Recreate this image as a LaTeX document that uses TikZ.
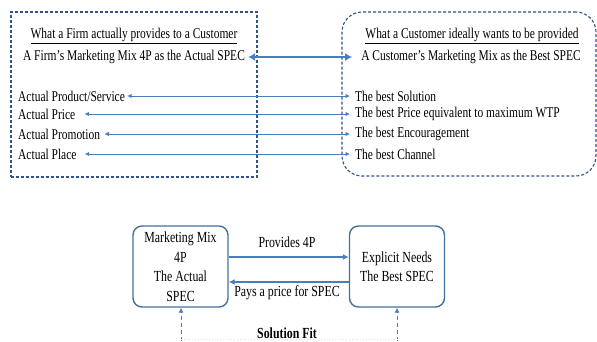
\documentclass[tikz,border=0pt]{standalone}
\usepackage{fontspec}
\setmainfont{Liberation Serif}[FakeStretch=0.77]
\usetikzlibrary{arrows.meta}
\definecolor{arr}{RGB}{74,126,187}
\definecolor{bx}{RGB}{47,82,143}
\definecolor{bx2}{RGB}{65,113,156}
\begin{document}
\begin{tikzpicture}[x=1pt,y=-1pt,
  font=\fontsize{14.9}{17}\selectfont,
  item/.style={inner sep=0pt, anchor=west},
  head/.style={inner sep=0pt},
  dbox/.style={draw=bx, line width=1.1pt, dash pattern=on 3pt off 2pt, inner sep=0pt},
  thinarrow/.style={arr, line width=0.9pt, {Latex[length=4.5pt,width=4.5pt]}-{Latex[length=4.5pt,width=4.5pt]}},
  thickarrow/.style={arr, line width=2.4pt, {Latex[length=7pt,width=8pt]}-{Latex[length=7pt,width=8pt]}},
  sbox/.style={draw=bx2, line width=1.4pt, rounded corners=9pt, minimum width=95pt, minimum height=81pt, align=center, inner sep=0pt, font=\fontsize{15.4}{19.5}\selectfont},
  flow/.style={arr, line width=1.4pt, -{Latex[length=6pt,width=6pt]}},
  dasharrow/.style={arr, line width=0.9pt, dash pattern=on 4pt off 3pt, -{Latex[length=5pt,width=5pt]}},
  lbl/.style={inner sep=0pt, font=\fontsize{15.4}{17}\selectfont}]
\useasboundingbox (0,0) rectangle (597,341);
% top boxes
\node[dbox, minimum width=246pt, minimum height=165pt] (L) at (134,94.5) {};
\node[dbox, rounded corners=20pt, minimum width=254pt, minimum height=164pt] (R) at (469,94) {};
% headings
\node[head] (lh1) at (134,36) {\underline{What a Firm actually provides to a Customer}};
\node[head] (lh2) at (134,57) {A Firm’s Marketing Mix 4P as the Actual SPEC};
\node[head] (rh1) at (472,36) {\underline{What a Customer ideally wants to be provided}};
\node[head] (rh2) at (471,57) {A Customer’s Marketing Mix as the Best SPEC};
% items
\node[item] (l1) at (18,96) {Actual Product/Service};
\node[item] (l2) at (18,114) {Actual Price};
\node[item] (l3) at (18,134) {Actual Promotion};
\node[item] (l4) at (18,154) {Actual Place};
\node[item] (r1) at (355,96) {The best Solution};
\node[item] (r2) at (355,114) {The best Price equivalent to maximum WTP};
\node[item] (r3) at (355,134) {The best Encouragement};
\node[item] (r4) at (355,154) {The best Channel};
% arrows
\draw[thickarrow, shorten <=3pt, shorten >=9pt] (lh2.east) -- (rh2.west |- lh2.east);
\draw[thinarrow, shorten <=2pt, shorten >=5pt] (l1.east) -- (r1.west);
\draw[thinarrow, shorten <=9pt, shorten >=5pt] (l2.east) -- (r2.west);
\draw[thinarrow, shorten <=4pt, shorten >=5pt] (l3.east) -- (r3.west);
\draw[thinarrow, shorten <=8pt, shorten >=5pt] (l4.east) -- (r4.west);
% bottom
\node[sbox] (mm) at (180.5,266.5) {Marketing Mix\\4P\\The Actual\\SPEC};
\node[sbox] (en) at (397,266.5) {Explicit Needs\\The Best SPEC};
\draw[flow] ([yshift=9.5pt]mm.east) -- ([yshift=9.5pt]en.west);
\draw[flow] ([yshift=-15.5pt]en.west) -- ([yshift=-15.5pt]mm.east);
\node[lbl] (p4) at (287,242) {Provides 4P};
\node[lbl] (pp) at (287,293) {Pays a price for SPEC};
\coordinate (s1) at (181,341);
\coordinate (s2) at (397,341);
\draw[dasharrow] (s1) -- (s1 |- mm.south);
\draw[dasharrow] (s2) -- (s2 |- en.south);
\draw[black!12, dotted, line width=0.8pt] ([yshift=1.5pt]s1) -- ([yshift=1.5pt]s2);
\node[lbl, font=\fontsize{15.4}{17}\selectfont\bfseries] (sf) at (287,333) {Solution Fit};
\end{tikzpicture}
\end{document}
